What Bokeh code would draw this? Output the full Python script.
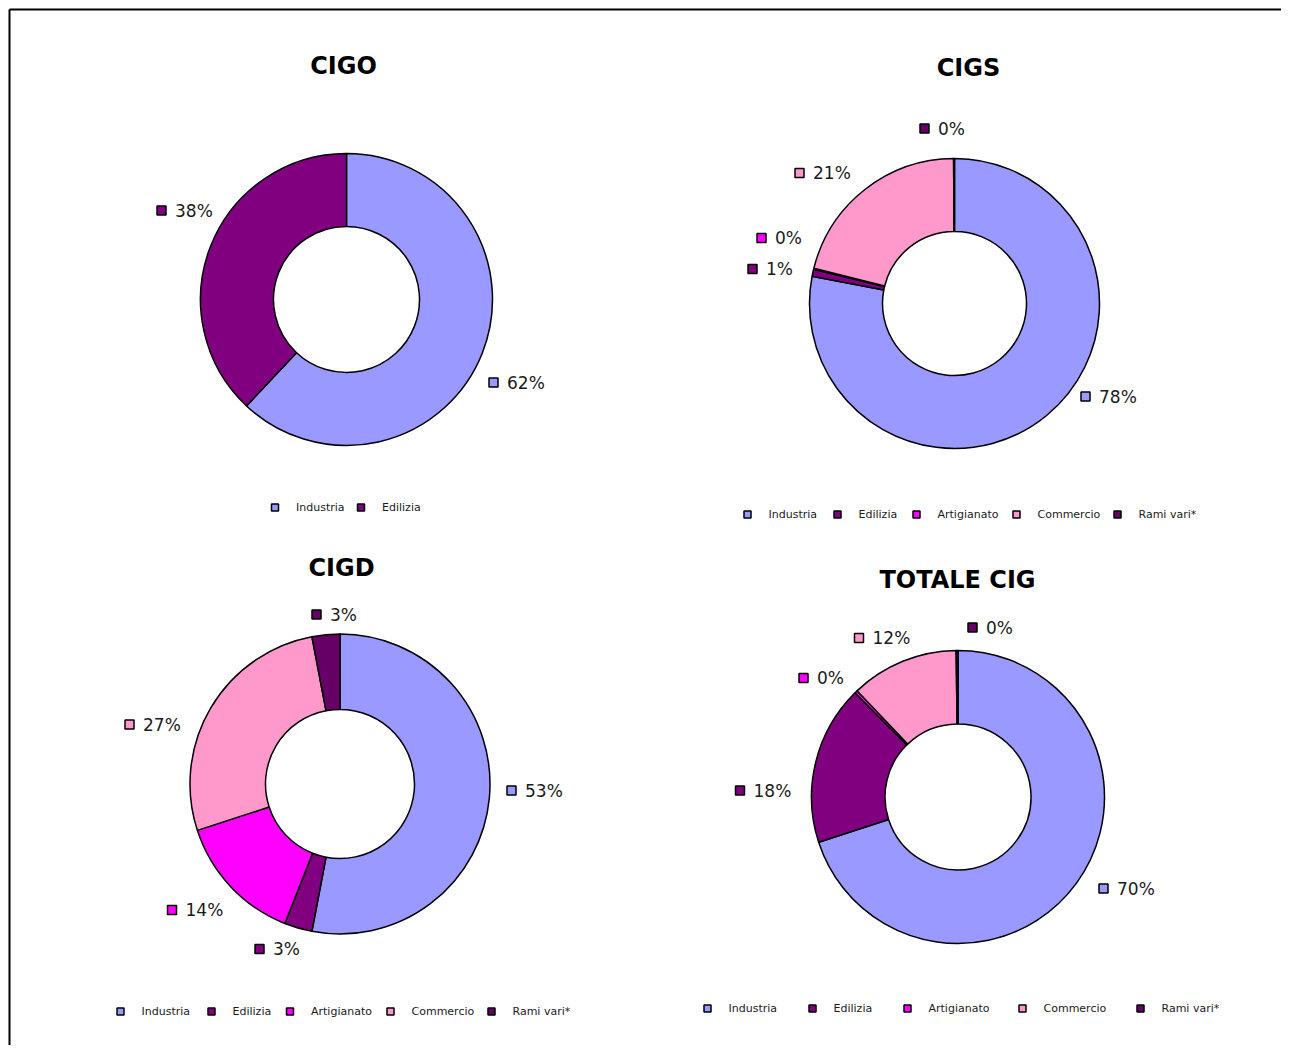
import math
from bokeh.plotting import figure
from bokeh.models import Range1d
from bokeh.core.properties import value
from bokeh.embed import file_html
from bokeh.resources import INLINE

# ---------------- data ----------------
categories = ["Industria", "Edilizia", "Artigianato", "Commercio", "Rami vari*"]
colors = ["#9999FF", "#800080", "#FF00FF", "#FF99CC", "#660066"]

titles = ["CIGO", "CIGS", "CIGD", "TOTALE CIG"]
cigo_values = [62.0, 38.0]
cigs_values = [78.0, 0.8, 0.1, 21.0, 0.1]
cigd_values = [53.0, 3.0, 14.0, 27.0, 3.0]
totale_values = [70.0, 17.6, 0.3, 11.9, 0.2]
series = [cigo_values, cigs_values, cigd_values, totale_values]

# ---------------- layout (page pixels) ----------------
layout = [
    dict(c=(346, 299), r=146, ri=73, title=(343, 65), leg_y=507,
         leg_x=[274.5, 360.5],
         lab=[(147, 83), (-185, -89)]),
    dict(c=(954, 303), r=145, ri=72, title=(968, 67), leg_y=514,
         leg_x=[747, 837, 916, 1016, 1117],
         lab=[(131, 93), (-202, -34.5), (-193, -65.5), (-155, -130.5), (-30, -175)]),
    dict(c=(339.5, 783.5), r=150, ri=74.5, title=(341, 567), leg_y=1011,
         leg_x=[120, 211, 289.5, 390, 491],
         lab=[(171.5, 6.5), (-80.5, 165), (-168, 126), (-210.5, -59.5), (-23.5, -169.5)]),
    dict(c=(957.5, 796.5), r=146.5, ri=73, title=(957, 579), leg_y=1008,
         leg_x=[707, 812, 907, 1022, 1140],
         lab=[(145.5, 91.5), (-218, -6.5), (-154.5, -119), (-99, -159), (14.5, -169.5)]),
]

W, H = 1281, 1045
FONT = value("DejaVu Sans")


def Y(py):
    return H - py


p = figure(width=W, height=H, x_range=Range1d(0, W), y_range=Range1d(0, H),
           output_backend="svg", toolbar_location=None, min_border=0,
           x_axis_type=None, y_axis_type=None)
p.grid.visible = False
p.outline_line_color = None
p.background_fill_color = "white"
p.border_fill_color = "white"

# frame lines (top and left edge)
p.line(x=[9, 9], y=[Y(9), Y(1060)], line_color="black", line_width=2)
p.line(x=[9, 1300], y=[Y(9), Y(9)], line_color="black", line_width=2)

for title, vals, lay in zip(titles, series, layout):
    cx, cy = lay["c"]
    total = sum(vals)
    cum = 0.0
    n = len(vals)
    for i, v in enumerate(vals):
        c0 = cum / total
        cum += v
        c1 = cum / total
        start = math.pi / 2 - 2 * math.pi * c0
        end = math.pi / 2 - 2 * math.pi * c1
        p.annular_wedge(x=cx, y=Y(cy), inner_radius=lay["ri"], outer_radius=lay["r"],
                        start_angle=start, end_angle=end, direction="clock",
                        fill_color=colors[i], line_color="black", line_width=1.5)

    # data labels
    for i, v in enumerate(vals):
        dx, dy = lay["lab"][i]
        mx, my = cx + dx, cy + dy
        p.scatter(x=[mx], y=[Y(my)], marker="square", size=9,
                  fill_color=colors[i], line_color="black", line_width=1.5)
        p.text(x=[mx + 13.5], y=[Y(my)], text=[f"{int(v / total * 100 + 0.5)}%"],
               text_font=FONT, text_font_size="17px", text_color="#1a1a1a",
               text_align="left", text_baseline="middle")

    # title
    tx, ty = lay["title"]
    p.text(x=[tx], y=[Y(ty)], text=[title], text_font=FONT, text_font_size="24px",
           text_font_style="bold", text_color="black",
           text_align="center", text_baseline="middle")

    # legend
    for i in range(n):
        lx = lay["leg_x"][i]
        ly = lay["leg_y"]
        p.scatter(x=[lx], y=[Y(ly)], marker="square", size=7,
                  fill_color=colors[i], line_color="black", line_width=1.5)
        p.text(x=[lx + 21], y=[Y(ly)], text=[categories[i]], text_font=FONT,
               text_font_size="11px", text_color="#1a1a1a",
               text_align="left", text_baseline="middle")

open("out.html", "w").write(file_html(p, INLINE))
